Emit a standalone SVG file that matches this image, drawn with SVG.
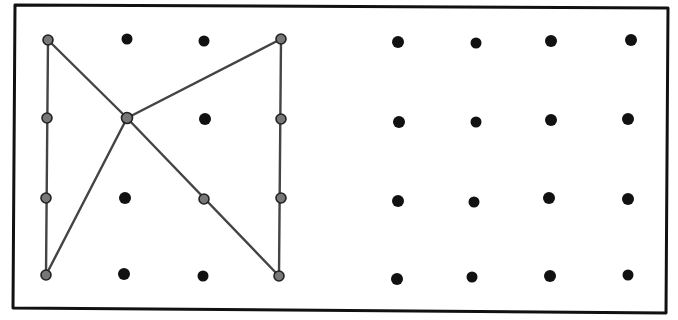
<svg xmlns="http://www.w3.org/2000/svg" width="678" height="320" viewBox="0 0 678 320">
<style>
.frame{fill:none;stroke:#111;stroke-width:3;stroke-linejoin:round}
.dot{fill:#111}
.peg{fill:#777;stroke:#222;stroke-width:1.6}
.line{fill:none;stroke:#444;stroke-width:2.4;stroke-linejoin:round}
</style>
<rect width="678" height="320" fill="#fff"/>
<path class="frame" d="M15,5 L668,8 L666,313 L13,308 Z"/>
<g id="connectors">
<polyline class="line" points="48,40 127,118 279,276 281,39 127,118 46,275 48,40"/>
</g>
<g id="left-grid">
<g id="L11"><circle class="peg" cx="48" cy="40" r="5"/></g>
<g id="L12"><circle class="dot" cx="127" cy="39" r="5.5"/></g>
<g id="L13"><circle class="dot" cx="204" cy="41" r="5.5"/></g>
<g id="L14"><circle class="peg" cx="281" cy="39" r="5"/></g>
<g id="L21"><circle class="peg" cx="47" cy="118" r="5"/></g>
<g id="L22"><circle class="peg" cx="127" cy="118" r="5.5"/></g>
<g id="L23"><circle class="dot" cx="205" cy="119" r="6"/></g>
<g id="L24"><circle class="peg" cx="281" cy="119" r="5"/></g>
<g id="L31"><circle class="peg" cx="46" cy="198" r="5"/></g>
<g id="L32"><circle class="dot" cx="125" cy="198" r="6"/></g>
<g id="L33"><circle class="peg" cx="204" cy="199" r="5"/></g>
<g id="L34"><circle class="peg" cx="281" cy="198" r="5"/></g>
<g id="L41"><circle class="peg" cx="46" cy="275" r="5"/></g>
<g id="L42"><circle class="dot" cx="124" cy="274" r="6"/></g>
<g id="L43"><circle class="dot" cx="203" cy="276" r="5.5"/></g>
<g id="L44"><circle class="peg" cx="279" cy="276" r="5"/></g>
</g>
<g id="right-grid">
<g id="R11"><circle class="dot" cx="398" cy="42" r="6"/></g>
<g id="R12"><circle class="dot" cx="476" cy="43" r="5.5"/></g>
<g id="R13"><circle class="dot" cx="551" cy="41" r="6"/></g>
<g id="R14"><circle class="dot" cx="631" cy="40" r="6"/></g>
<g id="R21"><circle class="dot" cx="399" cy="122" r="6"/></g>
<g id="R22"><circle class="dot" cx="476" cy="122" r="5.5"/></g>
<g id="R23"><circle class="dot" cx="551" cy="120" r="6"/></g>
<g id="R24"><circle class="dot" cx="628" cy="119" r="6"/></g>
<g id="R31"><circle class="dot" cx="398" cy="201" r="6"/></g>
<g id="R32"><circle class="dot" cx="474" cy="202" r="5.5"/></g>
<g id="R33"><circle class="dot" cx="549" cy="198" r="6"/></g>
<g id="R34"><circle class="dot" cx="628" cy="199" r="6"/></g>
<g id="R41"><circle class="dot" cx="397" cy="279" r="6"/></g>
<g id="R42"><circle class="dot" cx="472" cy="277" r="5.5"/></g>
<g id="R43"><circle class="dot" cx="550" cy="276" r="6"/></g>
<g id="R44"><circle class="dot" cx="628" cy="275" r="5.5"/></g>
</g>
</svg>
